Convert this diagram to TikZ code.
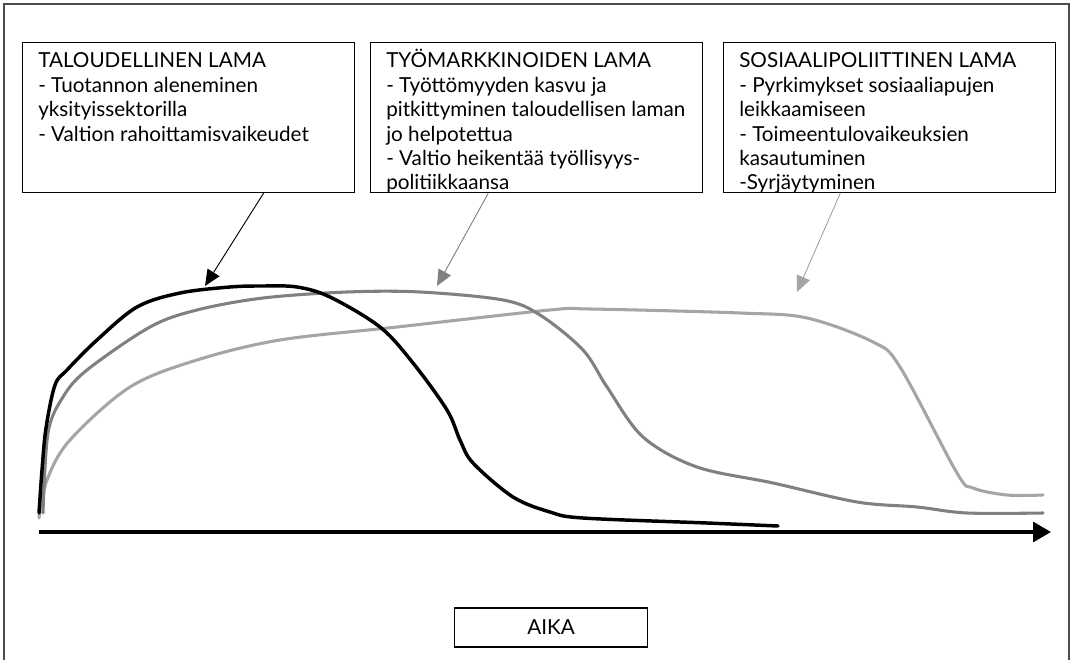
\documentclass[tikz,border=0pt]{standalone}
\usepackage{fontspec}
\setmainfont{Lato}
\usepackage{xcolor}
\usetikzlibrary{positioning,calc,arrows.meta}
\definecolor{tummaharmaa}{HTML}{808080}
\definecolor{vaaleaharmaa}{HTML}{A5A5A5}
\newcommand{\ylarivi}{\rule{0pt}{14pt}}

\begin{document}
\begin{tikzpicture}[x=0.75pt,y=-0.75pt,
  lamabox/.style={draw=black,line width=0.9pt,anchor=north west,minimum width=249pt,minimum height=112.5pt,inner sep=0pt},
  lamateksti/.style={anchor=north west,align=left,inner sep=0pt,font=\fontsize{15.5}{18.3}\selectfont},
  osoitin/.style={line width=0.7pt,-{Triangle[length=12pt,width=10.5pt]}},
  kayra/.style={line width=2.3pt,line cap=round,line join=round}]
\useasboundingbox (0,0) rectangle (1075,660);
\draw[line width=1.1pt,black!70] (4,664) |- (1069,4) -- (1069,664);

\node[lamabox] (talous) at (22,42) {};
\node[lamabox] (tyomarkkina) at (370,42) {};
\node[lamabox] (sosiaali) at (723,42) {};

\node[lamateksti] (taloustxt) at ([shift={(16,7)}]talous.north west)
  {\ylarivi TALOUDELLINEN LAMA\\- Tuotannon aleneminen\\yksityissektorilla\\- Valtion rahoittamisvaikeudet};
\begin{scope}
\clip (tyomarkkina.north west) rectangle (tyomarkkina.south east);
\node[lamateksti] (tyomarkkinatxt) at ([shift={(16,7)}]tyomarkkina.north west)
  {\ylarivi TYÖMARKKINOIDEN LAMA\\- Työttömyyden kasvu ja\\pitkittyminen taloudellisen laman\\jo helpotettua\\- Valtio heikentää työllisyys-\\politiikkaansa};
\end{scope}
\node[lamateksti] (sosiaalitxt) at ([shift={(16,7)}]sosiaali.north west)
  {\ylarivi SOSIAALIPOLIITTINEN LAMA\\- Pyrkimykset sosiaaliapujen\\leikkaamiseen\\- Toimeentulovaikeuksien\\kasautuminen\\-Syrjäytyminen};

\draw[kayra,vaaleaharmaa] plot[smooth,tension=0.55] coordinates {(39,518) (47,480) (70,440) (130,387) (197,360) (280,340) (397,327) (550,310) (590,309) (740,313) (807,318) (873,342) (900,367) (957,473) (973,488) (1007,495) (1043,495)};
\draw[kayra,tummaharmaa] plot[smooth,tension=0.55] coordinates {(43,513) (48,433) (63,397) (87,370) (150,327) (197,310) (263,298) (347,292) (420,292) (503,300) (540,315) (583,350) (607,387) (643,437) (697,467) (773,483) (857,502) (917,507) (967,513) (1043,513)};
\draw[kayra,black,line width=2.6pt] plot[smooth,tension=0.55] coordinates {(39,513) (42,470) (46,428) (55,385) (67,370) (97,340) (137,307) (180,293) (230,287) (263,286) (297,287) (330,297) (380,327) (413,363) (447,410) (460,440) (473,463) (513,497) (550,512) (583,518) (707,523) (778,526)};

\coordinate (talouskarki) at (205,286);
\coordinate (tyomarkkinakarki) at (437,286);
\coordinate (sosiaalikarki) at (797,292);
\draw[osoitin,black] ($(talous.south west)!0.725!(talous.south east)$) -- (talouskarki);
\draw[osoitin,tummaharmaa] ($(tyomarkkina.south west)!0.355!(tyomarkkina.south east)$) -- (tyomarkkinakarki);
\draw[osoitin,vaaleaharmaa] ($(sosiaali.south west)!0.352!(sosiaali.south east)$) -- (sosiaalikarki);

\coordinate (aikaalku) at (39,532);
\coordinate (aikaloppu) at (1051,532);
\draw[line width=2.3pt,-{Triangle[length=13.5pt,width=15pt]}] (aikaalku) -- (aikaloppu);

\node[draw,line width=0.9pt,minimum width=144.75pt,minimum height=29.25pt,inner sep=0pt,font=\fontsize{15.5}{18.3}\selectfont] (aika) at (551,627.5) {AIKA};
\end{tikzpicture}
\end{document}
